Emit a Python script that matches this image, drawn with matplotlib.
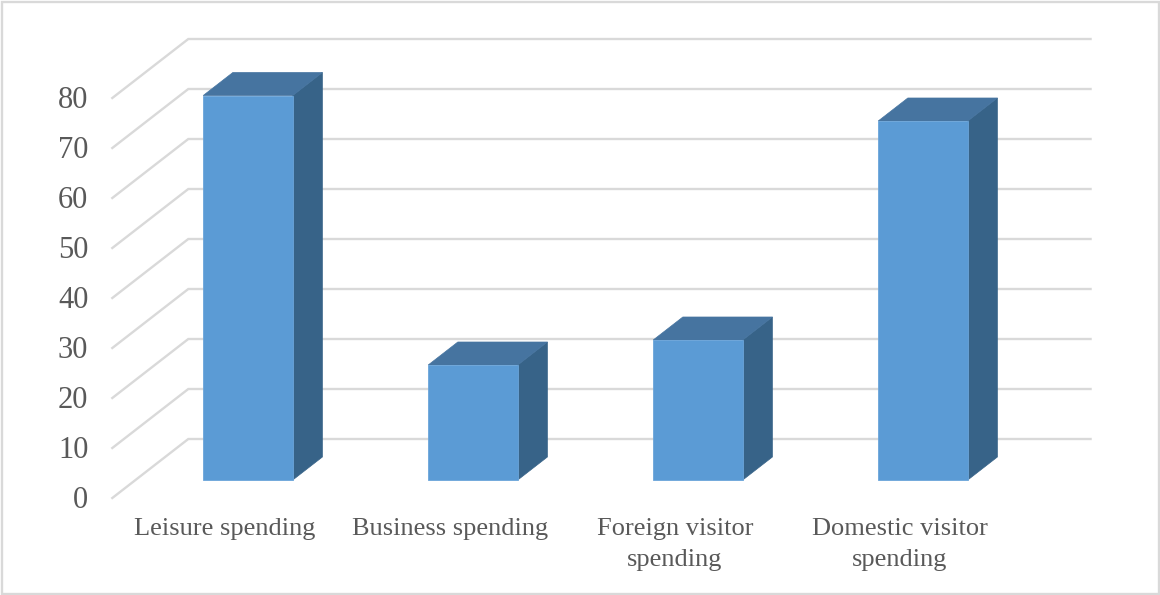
import matplotlib
matplotlib.use("Agg")
import matplotlib.pyplot as plt
from matplotlib.patches import Polygon, Rectangle

categories = ["Leisure spending", "Business spending", "Foreign visitor\nspending", "Domestic visitor\nspending"]
values = [76.9, 23, 28, 71.8]
ticks = [0, 10, 20, 30, 40, 50, 60, 70, 80]

W, H = 1160, 595
plt.rcParams['font.family'] = ['Liberation Serif', 'DejaVu Serif']
fig = plt.figure(figsize=(W/100, H/100), dpi=100, facecolor='white')
ax = fig.add_axes([0, 0, 1, 1])
ax.axis('off')

# data scale: category spacing 225 px, 5 px per value unit
x0_px, y0_px, sx, sy = 224.8, 498.0, 225.0, 5.0
ax.set_xlim(-x0_px/sx, (W-x0_px)/sx)
ax.set_ylim((y0_px-H)/sy, y0_px/sy)

DX, DY = 76/sx, 59/sy          # full depth of the oblique floor
F0, F1 = 0.305, 0.695          # depth of the bar front and back
BW = 0.398
XL, XR = -0.5, 3.51
GRID = '#d9d9d9'
TXT = '#595959'

def P(x, v, d):
    return (x + d*DX, v + d*DY)

for t in ticks:
    pts = [P(XL, t, 0), P(XL, t, 1), P(XR, t, 1)]
    ax.plot(*zip(*pts), color=GRID, lw=1.7, solid_joinstyle='miter', zorder=1)
    ax.text(XL - 24/sx, t - 2.5/sy, str(t), ha='right', va='center', fontsize=22, color=TXT)

for i, (c, v) in enumerate(zip(categories, values)):
    l, r = i - BW/2, i + BW/2
    front = [P(l, 0, F0), P(r, 0, F0), P(r, v, F0), P(l, v, F0)]
    side = [P(r, 0, F0), P(r, 0, F1), P(r, v, F1), P(r, v, F0)]
    top = [P(l, v, F0), P(r, v, F0), P(r, v, F1), P(l, v, F1)]
    ax.add_patch(Polygon(side, closed=True, fc='#376388', ec='#376388', lw=0.5, zorder=3))
    ax.add_patch(Polygon(top, closed=True, fc='#4674a0', ec='#4674a0', lw=0.5, zorder=3))
    ax.add_patch(Polygon(front, closed=True, fc='#5b9bd5', ec='#6ba5da', lw=0.6, zorder=4))
    ax.text(i, (y0_px-518)/sy, c, ha='center', va='top', fontsize=19, color=TXT,
            linespacing=1.54)

fig.add_artist(Rectangle((1.5/W, 1.5/H), (W-3)/W, (H-3)/H, transform=fig.transFigure,
                         fill=False, ec='#d9d9d9', lw=1.7))
fig.savefig('out.png', dpi=100, facecolor='white')
